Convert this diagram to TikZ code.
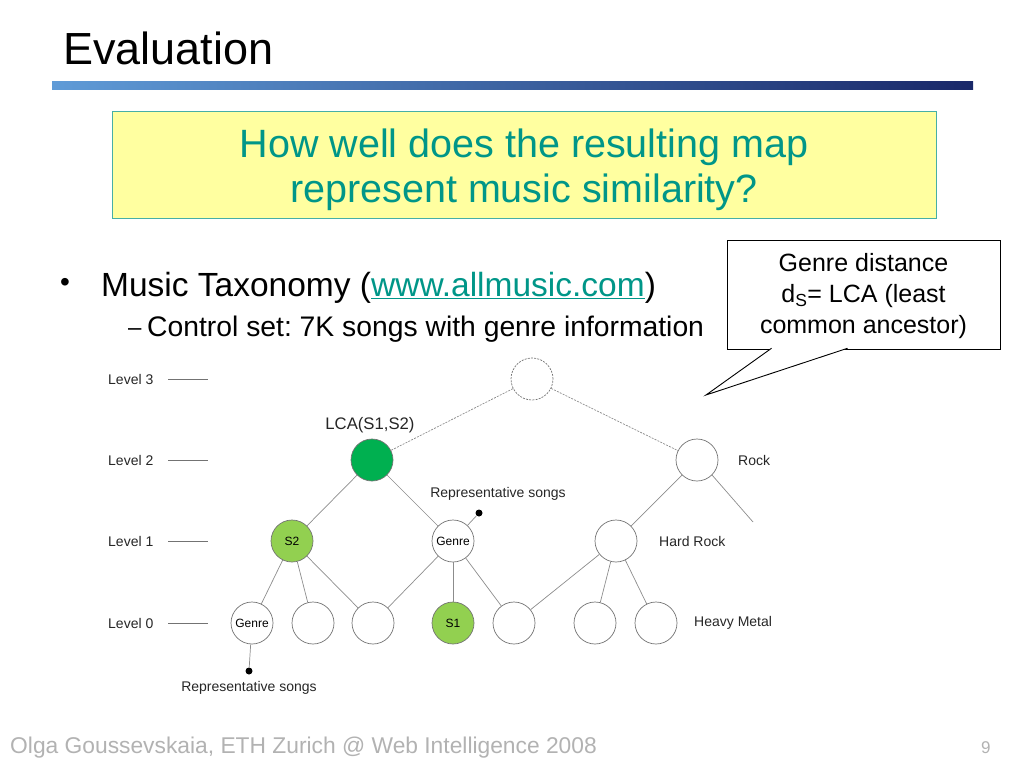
\documentclass[tikz,border=0pt]{standalone}
\usepackage{fontspec}
\setmainfont{Liberation Sans}
\usetikzlibrary{positioning}
\definecolor{qteal}{RGB}{0,150,136}
\definecolor{qyellow}{RGB}{255,255,160}
\definecolor{qborder}{RGB}{70,175,165}
\definecolor{lcagreen}{RGB}{0,176,80}
\definecolor{songgreen}{RGB}{146,208,80}
\definecolor{barlight}{RGB}{95,155,215}
\definecolor{bardark}{RGB}{25,40,105}
\frenchspacing

\begin{document}
\begin{tikzpicture}[x=1pt,y=-1pt,
    tnode/.style={circle,draw=black!55,fill=white,minimum size=42pt,inner sep=0pt,
        line width=0.7pt,font=\fontsize{12}{12}\selectfont},
    edge/.style={draw=black!45,line width=0.7pt},
    rootedge/.style={edge,dash pattern=on 2pt off 1.2pt},
    lbl/.style={inner sep=0pt,text=black!85,font=\fontsize{14}{14}\selectfont},
    dot/.style={circle,fill=black,inner sep=0pt,minimum size=7pt}]
    %% define levels
    \def\Liii{379};
    \def\Lii{460};
    \def\Li{541};
    \def\Lo{623};

    \useasboundingbox (0,0) rectangle (1024,768);

    %% title and bar
    \node[anchor=base west,inner sep=0pt,font=\fontsize{45}{45}\selectfont] (title) at (63,64) {Evaluation};
    \shade[left color=barlight,right color=bardark] (52,81) rectangle (973,89);

    %% question box
    \node[draw=qborder,fill=qyellow,line width=0.8pt,minimum width=824pt,minimum height=107pt]
        (question) at (524,164.5) {};
    \node[text=qteal,align=center,font=\fontsize{39.5}{45}\selectfont]
        (qtext) at ([yshift=-5pt]question.center) {How well does the resulting map\\represent music similarity?};

    %% bullets
    \node[font=\fontsize{28}{28}\selectfont,inner sep=0pt] (bul) at (65,285) {\textbullet};
    \node[anchor=base west,inner sep=0pt,font=\fontsize{33.5}{33.5}\selectfont] (tax) at (101,296)
        {Music Taxonomy (\textcolor{qteal}{\underline{www.allmusic.com}})};
    \node[anchor=base west,inner sep=0pt,font=\fontsize{24}{24}\selectfont] (dash) at (128,335) {--};
    \node[anchor=base west,inner sep=0pt,font=\fontsize{28.3}{28.3}\selectfont] (ctrl) at (147,336)
        {Control set: 7K songs with genre information};

    %% callout
    \node[draw=black,fill=white,line width=0.9pt,minimum width=273pt,minimum height=109pt] (dist) at (863.5,294.5) {};
    \node[align=center,font=\fontsize{25}{31}\selectfont] (disttext) at ([yshift=-2pt]dist.center)
        {Genre distance\\d\textsubscript{S}= LCA (least\\common ancestor)};
    \coordinate (tip) at (706,395);
    \filldraw[fill=white,draw=black,line width=0.9pt] ([xshift=45pt,yshift=1.2pt]dist.south west) -- (tip)
        -- ([xshift=121pt,yshift=1.2pt]dist.south west);

    %% levels
    \foreach \l/\y in {3/\Liii,2/\Lii,1/\Li,0/\Lo} {
        \node[lbl,anchor=west] (lvl\l) at (108,\y) {Level \l};
        \draw[black!55,line width=0.7pt] (168,\y) -- (208,\y);
    }

    %% tree nodes
    \node[tnode,dash pattern=on 2pt off 1.2pt] (root) at (532,\Liii) {};
    \node[tnode,fill=lcagreen] (lca) at (372,\Lii) {};
    \node[tnode] (rock) at (697,\Lii) {};
    \node[tnode,fill=songgreen] (s2) at (292,\Li) {S2};
    \node[tnode] (genreI) at (453,\Li) {Genre};
    \node[tnode] (hard) at (616,\Li) {};
    \node[tnode] (genreO) at (252,\Lo) {Genre};
    \node[tnode] (a) at (313,\Lo) {};
    \node[tnode] (b) at (373,\Lo) {};
    \node[tnode,fill=songgreen] (s1) at (453,\Lo) {S1};
    \node[tnode] (c) at (514,\Lo) {};
    \node[tnode] (d) at (595,\Lo) {};
    \node[tnode] (e) at (656,\Lo) {};
    \coordinate (rockR) at (753,522);

    %% edges
    \draw[rootedge] (root) -- (lca);
    \draw[rootedge] (root) -- (rock);
    \draw[edge] (lca) -- (s2);
    \draw[edge] (lca) -- (genreI);
    \draw[edge] (rock) -- (hard);
    \draw[edge] (rock.south east) -- (rockR);
    \foreach \n in {genreO,a,b} \draw[edge] (s2) -- (\n);
    \foreach \n in {b,s1,c} \draw[edge] (genreI) -- (\n);
    \foreach \n in {c,d,e} \draw[edge] (hard) -- (\n);

    %% representative songs
    \node[dot] (repO) at (249,671) {};
    \node[dot] (repI) at (479,513) {};
    \draw[edge] (genreO) -- (repO);
    \draw[edge] (genreI) -- (repI);
    \node[lbl] (repOtext) at (249,688) {Representative songs};
    \node[lbl] (repItext) at (498,494) {Representative songs};

    %% other text
    \node[lbl,font=\fontsize{16.7}{16.7}\selectfont] (lcatext) at (370,425) {LCA(S1,S2)};
    \node[lbl,anchor=west] (rocktext) at (738,\Lii) {Rock};
    \node[lbl,anchor=west] (hardtext) at (659,\Li) {Hard Rock};
    \node[lbl,anchor=west] (metaltext) at (694,\Lo) {Heavy Metal};

    %% footer
    \node[anchor=base west,inner sep=0pt,text=black!30,font=\fontsize{22.8}{22.8}\selectfont] (foot) at (10,753)
        {Olga Goussevskaia, ETH Zurich @ Web Intelligence 2008};
    \node[anchor=base west,inner sep=0pt,text=black!30,font=\fontsize{17}{17}\selectfont] (page) at (981,753) {9};
\end{tikzpicture}
\end{document}
